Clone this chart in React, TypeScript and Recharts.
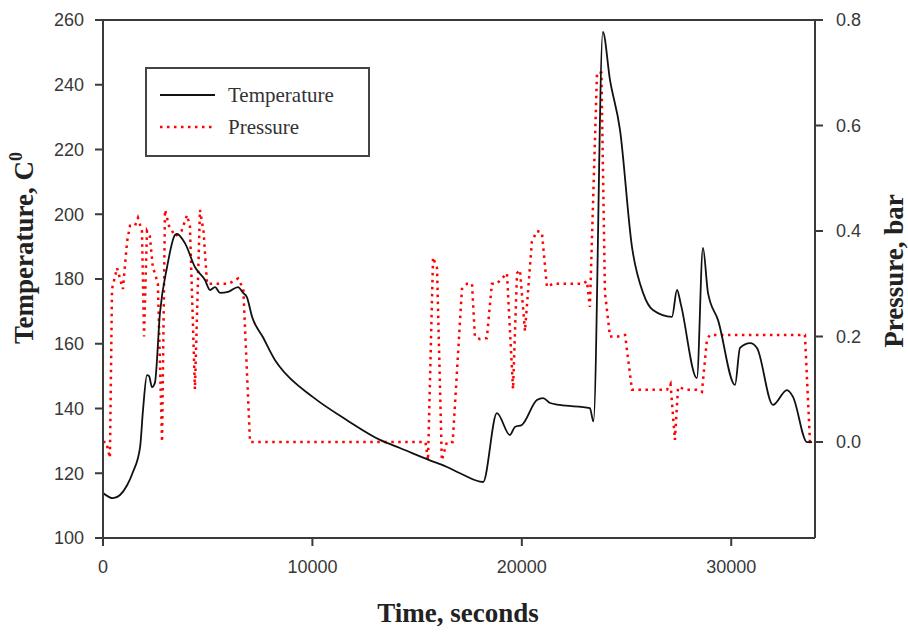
import React from "react";
import { LineChart, Line, XAxis, YAxis, ReferenceLine } from "recharts";

// Time (s) and temperature (°C)
const tempTimes = [0, 480, 1150, 1430, 1770, 1910, 2100, 2200, 2340, 2480, 2720, 3060, 3440, 3530, 3920, 4390, 4870, 5110, 5350, 5590, 5970, 6450, 6690, 6870, 7120, 7640, 8210, 8450, 10030, 11650, 13230, 14180, 15610, 16400, 17050, 18150, 18810, 19430, 19670, 20000, 20720, 21010, 21350, 21820, 23250, 23420, 23870, 24210, 24690, 25260, 25790, 26260, 27170, 27410, 27600, 28360, 28650, 28890, 29370, 30180, 30420, 30900, 31230, 31990, 32660, 32950, 33620, 33860];
const tempValues = [113.9, 112.3, 116.3, 120.4, 128, 139.5, 150.3, 150, 146.6, 148, 169.5, 183.7, 193.6, 193.9, 191, 183.7, 179.7, 176.6, 177.5, 175.7, 176, 177.5, 175.7, 174.4, 168.3, 162, 155, 152.8, 143.5, 136.4, 130.3, 127.8, 124, 122, 120, 117.3, 138.6, 131.8, 134.3, 134.9, 142.6, 143.2, 141.7, 141.1, 140.1, 136.0, 256.3, 241.5, 226, 189.9, 175.7, 170.4, 168.3, 176.6, 172, 149.4, 189.6, 175.7, 167.3, 147.3, 158.7, 160.2, 158.7, 141.1, 145.7, 143.6, 129.6, 129.6];

// Time (s) and pressure (bar)
const presTimes = [0, 150, 330, 430, 670, 810, 950, 1150, 1290, 1530, 1670, 1860, 1960, 2100, 2240, 2380, 2480, 2620, 2820, 2960, 3150, 3450, 3750, 4010, 4150, 4390, 4630, 4800, 4970, 5500, 6000, 6450, 6700, 7020, 7350, 15140, 15400, 15520, 15760, 15950, 16180, 16420, 16700, 17140, 17380, 17620, 17760, 18000, 18330, 18570, 18810, 19290, 19580, 19770, 19910, 20150, 20480, 20720, 20960, 21200, 21490, 22920, 23110, 23250, 23590, 23800, 23970, 24210, 24590, 24930, 25260, 26930, 27100, 27310, 27460, 27890, 28360, 28600, 28840, 28980, 33520, 33760, 33900];
const presValues = [0.0, 0.0, -0.03, 0.29, 0.33, 0.31, 0.29, 0.38, 0.41, 0.41, 0.425, 0.40, 0.20, 0.40, 0.39, 0.33, 0.32, 0.30, 0.0, 0.44, 0.41, 0.39, 0.40, 0.43, 0.41, 0.10, 0.44, 0.40, 0.30, 0.30, 0.30, 0.31, 0.29, 0.0, 0.0, 0.0, 0.0, -0.035, 0.35, 0.33, -0.035, 0.0, 0.0, 0.29, 0.30, 0.30, 0.20, 0.195, 0.197, 0.30, 0.30, 0.32, 0.10, 0.32, 0.326, 0.21, 0.38, 0.40, 0.397, 0.294, 0.30, 0.30, 0.305, 0.256, 0.70, 0.70, 0.283, 0.20, 0.20, 0.203, 0.099, 0.099, 0.11, 0.004, 0.104, 0.099, 0.099, 0.095, 0.194, 0.203, 0.203, 0.0, 0.0];

const xTicks = [0, 10000, 20000, 30000];
const tempTicks = [100, 120, 140, 160, 180, 200, 220, 240, 260];
const presTicks = [0, 0.2, 0.4, 0.6, 0.8];

const tempData = tempTimes.map((t, i) => ({ t, temperature: tempValues[i] }));
const presData = presTimes.map((t, i) => ({ t, pressure: presValues[i] }));

const AXIS = "#3a3a3a";
const tickStyle = { fontFamily: "'Liberation Sans', Arial, sans-serif", fontSize: 18, fill: "#383838" };
const titleFont = "'Liberation Serif', 'Times New Roman', serif";

export default function App() {
  return (
    <div style={{ position: "absolute", left: 0, top: 0, width: 908, height: 632, background: "#fff" }}>
      <LineChart width={908} height={632} margin={{ top: 20, right: 0, bottom: 0, left: 0 }}>
        <XAxis
          dataKey="t"
          type="number"
          domain={[0, 34000]}
          ticks={xTicks}
          allowDataOverflow
          height={94}
          stroke={AXIS}
          axisLine={{ stroke: AXIS, strokeWidth: 2 }}
          tickLine={{ stroke: AXIS, strokeWidth: 2 }}
          tickSize={8}
          tickMargin={14}
          tick={tickStyle}
          label={{
            content: () => (
              <text x={458} y={622} textAnchor="middle" fontFamily={titleFont} fontWeight="bold" fontSize={27} fill="#222">
                Time, seconds
              </text>
            ),
          }}
        />
        <YAxis
          yAxisId="left"
          orientation="left"
          type="number"
          domain={[100, 260]}
          ticks={tempTicks}
          allowDataOverflow
          width={103}
          axisLine={{ stroke: AXIS, strokeWidth: 2 }}
          tickLine={{ stroke: AXIS, strokeWidth: 2 }}
          tickSize={8}
          tickMargin={11}
          tick={tickStyle}
          label={{
            content: () => (
              <text x={33} y={248} transform="rotate(-90 33 248)" textAnchor="middle" fontFamily={titleFont} fontWeight="bold" fontSize={27} fill="#222">
                Temperature, C
                <tspan fontSize={18} dy={-11}>0</tspan>
              </text>
            ),
          }}
        />
        <YAxis
          yAxisId="right"
          orientation="right"
          type="number"
          domain={[-0.182, 0.8]}
          ticks={presTicks}
          allowDataOverflow
          width={93}
          axisLine={{ stroke: AXIS, strokeWidth: 2 }}
          tickLine={{ stroke: AXIS, strokeWidth: 2 }}
          tickSize={8}
          tickMargin={13}
          tick={tickStyle}
          tickFormatter={(v: number) => v.toFixed(1)}
          label={{
            content: () => (
              <text x={903} y={271} transform="rotate(-90 903 271)" textAnchor="middle" fontFamily={titleFont} fontWeight="bold" fontSize={27} fill="#222">
                Pressure, bar
              </text>
            ),
          }}
        />
        <ReferenceLine yAxisId="left" y={260} stroke={AXIS} strokeWidth={2} />
        <Line
          yAxisId="right"
          data={presData}
          dataKey="pressure"
          type="linear"
          stroke="#ff0000"
          strokeWidth={2.5}
          strokeDasharray="2.5 4.5"
          dot={false}
          activeDot={false}
          isAnimationActive={false}
        />
        <Line
          yAxisId="left"
          data={tempData}
          dataKey="temperature"
          type="monotone"
          stroke="#111"
          strokeWidth={1.8}
          dot={false}
          activeDot={false}
          isAnimationActive={false}
        />
      </LineChart>
      <div
        style={{
          position: "absolute",
          left: 145,
          top: 67,
          width: 225,
          height: 90,
          boxSizing: "border-box",
          border: "2px solid #444",
          background: "#fff",
          fontFamily: titleFont,
          fontSize: 21,
          color: "#333",
        }}
      >
        <svg width={225} height={90} style={{ position: "absolute", left: -2, top: -2 }}>
          <line x1={15} y1={28} x2={70} y2={28} stroke="#111" strokeWidth={1.8} />
          <line x1={15} y1={60} x2={70} y2={60} stroke="#ff0000" strokeWidth={2.5} strokeDasharray="2.5 4.5" />
          <text x={83} y={35} fontFamily={titleFont} fontSize={21} fill="#333">Temperature</text>
          <text x={83} y={67} fontFamily={titleFont} fontSize={21} fill="#333">Pressure</text>
        </svg>
      </div>
    </div>
  );
}
